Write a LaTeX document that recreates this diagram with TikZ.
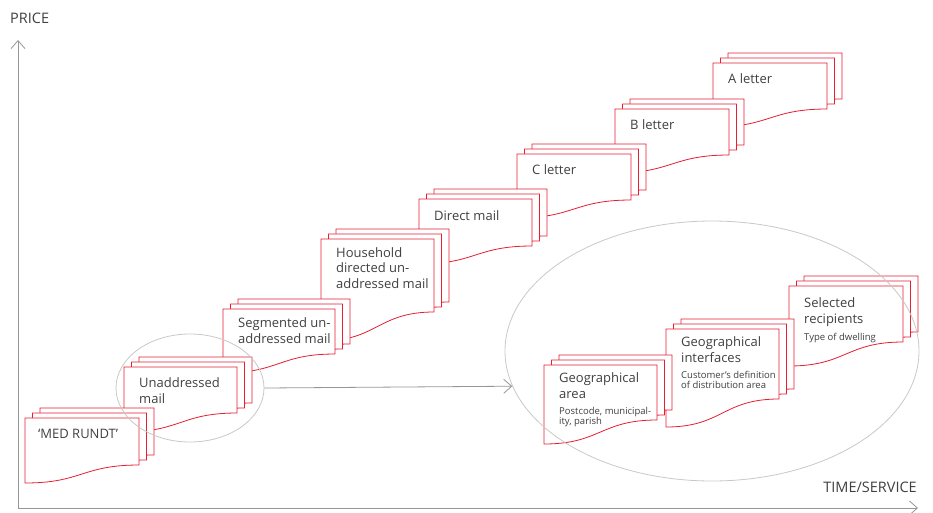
\documentclass[tikz,border=0pt]{standalone}
\usepackage{fontspec}
\setmainfont{Open Sans}
\usetikzlibrary{arrows.meta, shapes.geometric, positioning}

\definecolor{mailred}{RGB}{230,30,50}
\definecolor{txtgray}{RGB}{64,64,64}
\definecolor{axisgray}{RGB}{150,150,150}
\definecolor{ringgray}{RGB}{200,200,200}

% one sheet: left, top, right, bottom at right edge, drop of the wavy edge
\newcommand{\mailsheet}[5]{%
  \draw[sheet] (#1,#2) -- (#3,#2) -- (#3,#4)
    .. controls ({(#1+#3)/2},#4) and ({(#1+#3)/2},{#4+#5}) .. (#1,{#4+#5}) -- cycle;}
% a pile of three sheets, back to front
\newcommand{\mailpile}[5]{%
  \mailsheet{#1+15}{#2-10}{#3+15}{#4-10}{#5}
  \mailsheet{#1+7.5}{#2-5}{#3+7.5}{#4-5}{#5}
  \mailsheet{#1}{#2}{#3}{#4}{#5}}

\begin{document}
\begin{tikzpicture}[
  x=1pt, y=-1pt,
  sheet/.style={draw=mailred, fill=white, line width=0.8pt},
  % multi-line titles sit on the baseline of their last line
  title/.style={anchor=base west, align=left, inner sep=0pt, text=txtgray,
    font=\fontsize{13}{15.5}\selectfont},
  subtxt/.style={title, font=\fontsize{9.5}{10}\selectfont},
  axlabel/.style={anchor=base west, inner sep=0pt, text=txtgray,
    font=\fontsize{14.5}{16}\selectfont},
  axis/.style={draw=axisgray, line width=0.8pt},
  ring/.style={ellipse, draw=ringgray, line width=0.8pt, inner sep=0pt},
  >={Straight Barb[length=8pt, width=14pt]},
]
\useasboundingbox (0,0) rectangle (933,512);

% axes
\coordinate (origin) at (18,508);
\coordinate (ytop) at (18,40);
\coordinate (xend) at (918,508);
\draw[axis, ->] (origin) -- (ytop);
\draw[axis, ->] (origin) -- (xend);
\node[axlabel] (price) at (10,23) {PRICE};
\node[axlabel, anchor=base east] (timeserv) at (917,492) {TIME/SERVICE};

% staircase, top right first
\mailpile{713}{63}{827}{109}{18}
\node[title] (aletter) at (728,83) {A letter};
\mailpile{615}{109}{729}{155}{18}
\node[title] (bletter) at (630,129) {B letter};
\mailpile{517}{154}{631}{200}{18}
\node[title] (cletter) at (532,174) {C letter};
\mailpile{419}{199}{532}{246}{18}
\node[title] (direct) at (434,220) {Direct mail};
\mailpile{321}{239}{434}{312}{29}
\node[title] (household) at (336,288) {Household\\directed un-\\addressed mail};
\mailpile{223}{309}{335}{354}{19}
\node[title] (segmented) at (238,343) {Segmented un-\\addressed mail};
\mailpile{124}{367}{237}{413}{19}
\node[title] (unaddr) at (139,403) {Unaddressed\\mail};
\mailpile{25}{418}{139}{465}{18}
\node[title] (medrundt) at (38,438) {‘MED RUNDT’};

% addressed variants
\mailpile{789}{286}{903}{342}{24}
\node[title] (selected) at (804,323) {Selected\\recipients};
\node[subtxt] (selsub) at (804,340) {Type of dwelling};
\mailpile{666}{329}{779}{399}{28}
\node[title] (geoif) at (681,362) {Geographical\\interfaces};
\node[subtxt] (geoifsub) at (681,388) {Customer’s definition\\of distribution area};
\mailpile{544}{365}{657}{420}{24}
\node[title] (geoarea) at (559,398) {Geographical\\area};
\node[subtxt] (geoareasub) at (559,424) {Postcode, municipal-\\ity, parish};

% rings
\node[ring, minimum width=148pt, minimum height=108pt] (unring) at (190,388) {};
\node[ring, minimum width=414pt, minimum height=260pt] (geoset) at (712,351) {};
\draw[axis, ->] (unring.east) -- (geoset.190.3);
\end{tikzpicture}
\end{document}
